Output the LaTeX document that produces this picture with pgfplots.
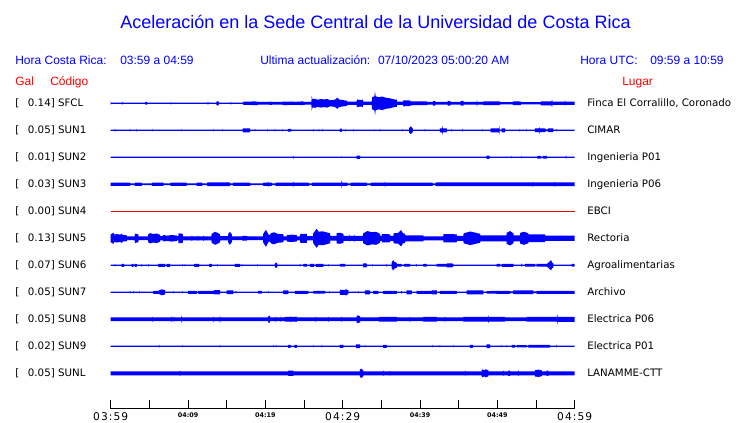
\documentclass[border=0pt]{standalone}
\usepackage{fontspec}
\setmainfont{DejaVu Sans}
\newfontfamily\hdr{Liberation Sans}
\usepackage{pgfplots}
\usepackage{pgfplotstable}
\pgfplotsset{compat=1.18}
\usepgfplotslibrary{fillbetween}

\definecolor{ublue}{RGB}{0,0,255}
\definecolor{ured}{RGB}{255,0,0}
\definecolor{tred}{RGB}{235,0,0}

% half-amplitude envelope of each trace, t in minutes after 03:59, a in px
\pgfplotstableread{
t a
0.00 1.5
0.06 0.65
1.50 0.65
1.55 1.6
1.60 0.65
4.45 0.65
4.50 1.3
4.70 1.3
4.75 0.65
7.75 0.65
7.80 1.3
7.85 0.65
12.52 0.65
12.58 1.6
12.64 0.65
13.65 0.65
13.70 2.0
13.95 2.0
14.00 0.65
15.50 0.65
15.56 1.3
15.62 0.65
17.10 0.65
17.15 1.6
18.00 1.6
18.40 1.9
19.00 1.7
19.10 1.3
20.50 1.3
20.60 1.7
21.00 1.3
22.20 1.3
22.30 1.8
24.00 1.5
24.80 1.9
25.10 1.4
25.95 1.4
26.00 7.3
26.08 4.2
26.50 4.5
26.70 3.5
27.20 4.3
27.60 3.8
28.00 4.3
28.40 3.0
29.00 3.6
29.30 5.6
29.50 4.0
29.70 3.5
30.20 3.0
30.55 2.5
30.60 1.6
31.80 1.6
31.85 3.8
32.30 3.2
32.60 3.6
32.65 1.6
33.75 1.6
33.80 6.0
34.10 7.0
34.18 12.0
34.26 7.0
34.70 6.0
35.10 6.8
35.60 5.5
36.10 5.0
36.60 4.0
37.00 3.5
37.05 1.6
37.80 1.6
37.85 3.0
38.70 2.8
38.75 2.0
40.90 1.8
40.95 1.3
41.65 1.3
41.70 2.4
41.95 2.4
42.00 1.3
43.55 1.3
43.60 2.4
43.90 2.4
43.95 1.3
45.25 1.3
45.30 2.4
45.60 2.4
45.65 1.3
47.32 1.3
47.37 3.0
47.42 1.3
48.15 1.3
48.20 1.8
50.30 1.8
50.35 1.2
52.00 1.2
52.05 1.8
53.00 1.8
53.05 1.2
55.60 1.2
55.65 2.0
57.00 2.0
57.07 3.6
57.14 1.6
58.70 1.6
58.75 3.0
58.80 1.6
60.00 1.6
}\tabSFCL

\pgfplotstableread{
t a
0.00 0.6
0.51 0.6
0.56 1.5
0.61 0.6
2.45 0.6
2.50 1.3
2.55 0.6
3.31 0.6
3.36 1.3
3.41 0.6
5.38 0.6
5.43 1.3
5.48 0.6
9.13 0.6
9.18 1.1
9.23 0.6
13.22 0.6
13.27 1.2
13.32 0.6
14.43 0.6
14.48 1.2
14.53 0.6
17.05 0.6
17.10 2.0
18.00 2.0
18.05 0.6
18.61 0.6
18.66 1.2
18.71 0.6
20.20 0.6
20.25 1.3
20.30 0.6
21.20 0.6
21.25 1.3
21.30 0.6
22.14 0.6
22.19 1.3
22.24 0.6
22.90 0.6
22.93 1.3
23.32 1.3
23.35 0.6
26.15 0.6
26.20 1.3
26.25 0.6
26.89 0.6
26.94 1.3
26.99 0.6
27.37 0.6
27.42 1.3
27.47 0.6
29.62 0.6
29.65 1.6
29.87 1.6
29.90 0.6
30.34 0.6
30.39 1.3
30.44 0.6
31.32 0.6
31.37 1.3
31.42 0.6
34.04 0.6
34.09 1.0
34.14 0.6
34.77 0.6
34.82 1.3
34.87 0.6
37.66 0.6
37.71 1.3
37.76 0.6
38.58 0.6
38.61 2.5
38.80 3.8
39.05 2.0
39.08 0.6
40.59 0.6
40.64 1.3
40.69 0.6
42.55 0.6
42.58 2.0
42.82 2.0
42.88 4.7
42.94 2.0
43.45 2.0
43.48 0.6
44.05 0.6
44.10 1.5
44.15 0.6
45.42 0.6
45.47 1.5
45.52 0.6
48.00 0.6
48.05 1.3
48.10 0.6
49.11 0.6
49.14 2.0
50.12 2.0
50.20 2.0
50.25 4.3
50.30 0.6
50.53 0.6
50.56 2.0
50.99 2.0
51.02 0.6
52.85 0.6
52.90 1.3
52.95 0.6
53.75 0.6
53.80 1.3
53.85 0.6
54.84 0.6
54.87 1.8
55.37 1.8
55.42 3.5
55.47 1.8
56.20 1.8
56.25 0.8
56.50 0.8
56.55 1.8
57.23 1.8
57.26 0.6
57.62 0.6
57.67 1.3
57.72 0.6
60.00 0.6
}\tabSUNa

\pgfplotstableread{
t a
0.00 0.6
23.56 0.6
23.61 1.6
23.66 0.6
29.82 0.6
29.87 1.1
29.92 0.6
31.78 0.6
31.81 1.7
32.24 1.7
32.27 0.6
48.59 0.6
48.62 1.7
48.96 1.7
48.99 0.6
51.80 0.6
51.85 1.2
51.90 0.6
53.10 0.6
53.15 1.2
53.20 0.6
55.15 0.6
55.20 1.4
55.60 1.4
55.65 0.6
55.85 0.6
55.90 1.4
56.38 1.4
56.42 0.6
58.83 0.6
58.88 1.8
58.93 0.6
60.00 0.6
}\tabSUNb

\pgfplotstableread{
t a
0.00 1.7
2.50 1.7
2.55 0.8
3.10 0.8
3.15 1.7
4.00 1.7
4.05 0.8
5.30 0.8
5.35 1.7
6.80 1.7
6.85 0.8
7.70 0.8
7.75 1.7
9.80 1.7
9.85 0.8
11.10 0.8
11.15 1.7
11.80 1.7
11.85 0.8
12.45 0.8
12.50 1.8
15.40 1.8
15.45 0.8
15.80 0.8
15.85 1.7
18.00 1.7
18.05 0.8
19.70 0.8
19.75 1.6
20.33 1.6
20.38 2.6
20.43 1.6
20.80 1.6
20.85 0.8
21.30 0.8
21.35 1.7
23.56 1.7
23.61 2.6
23.66 1.7
25.60 1.7
25.65 0.8
26.00 0.8
26.05 1.7
29.82 1.7
29.87 3.6
29.92 1.7
30.60 1.7
30.65 0.8
31.00 0.8
31.05 1.7
33.10 1.7
33.15 0.8
33.60 0.8
33.65 1.7
35.42 1.7
35.47 2.6
35.52 1.7
41.60 1.7
41.65 0.9
42.00 0.9
42.05 1.8
54.52 1.8
54.57 2.5
54.62 1.8
57.40 1.8
57.45 2.5
57.50 1.8
60.00 1.8
}\tabSUNc

\pgfplotstableread{
t a
0 0.7
60 0.7
}\tabSUNd

\pgfplotstableread{
t a
0.00 4.0
0.20 4.8
0.34 5.6
0.45 3.8
0.90 4.2
1.20 3.5
1.42 4.6
1.60 3.2
2.07 3.0
2.10 1.9
3.10 1.9
3.14 4.6
3.57 4.0
3.60 1.9
4.83 1.9
4.86 4.0
5.10 5.2
5.50 4.2
5.90 4.8
6.38 3.5
6.40 2.1
6.76 2.1
6.80 3.2
7.40 2.6
7.80 3.3
8.53 2.8
8.56 2.1
8.74 2.1
8.78 5.0
9.31 4.5
9.35 2.0
10.45 2.0
10.50 2.8
10.55 2.0
11.25 2.0
11.30 2.6
11.35 2.0
11.95 2.0
12.00 2.6
12.05 2.0
13.02 2.0
13.06 4.5
13.50 6.5
13.80 5.5
14.13 4.0
14.17 2.2
15.18 2.2
15.21 4.5
15.40 6.5
15.65 4.0
15.69 1.9
17.00 1.9
17.05 2.4
17.60 2.4
17.65 1.9
19.70 1.9
19.73 4.5
20.08 8.5
20.38 4.0
20.60 3.0
20.70 5.0
21.10 6.0
21.60 4.5
22.32 4.0
22.36 2.0
22.76 2.0
22.80 3.4
23.50 3.6
24.05 3.2
24.09 2.0
24.48 2.0
24.52 4.5
25.35 4.5
25.39 2.2
26.16 2.2
26.20 5.0
26.64 9.5
26.90 6.5
27.40 7.0
27.90 6.0
28.36 5.0
28.40 2.3
29.20 2.3
29.23 5.2
29.70 5.5
30.08 4.5
30.12 2.5
30.85 2.5
30.90 3.6
30.95 2.5
31.45 2.5
31.50 3.6
31.55 2.5
32.62 2.5
32.66 5.0
33.20 7.2
33.80 6.0
34.30 6.5
34.82 4.5
34.86 2.5
35.04 2.5
35.08 4.2
36.12 4.0
36.16 2.5
36.55 2.5
36.60 5.0
37.20 5.5
37.54 8.2
37.80 5.0
38.06 4.5
38.10 3.0
40.42 3.0
40.46 2.0
43.00 2.0
43.04 4.2
44.74 4.0
44.78 2.5
45.60 2.5
45.64 5.0
46.50 6.8
47.20 5.5
47.76 4.5
47.80 3.0
51.18 3.0
51.21 5.5
51.64 7.2
52.07 5.0
52.11 3.0
52.93 3.0
52.97 5.5
53.45 6.5
54.00 5.0
54.04 3.8
56.16 3.8
56.20 2.6
60.00 2.6
}\tabSUNe

\pgfplotstableread{
t a
0.00 0.6
0.52 0.6
0.57 1.3
0.62 0.6
1.40 0.6
1.42 1.5
1.72 1.5
1.74 0.6
2.70 0.6
2.72 1.5
2.95 1.5
2.97 0.6
3.10 0.6
3.12 1.5
3.36 1.5
3.38 0.6
3.96 0.6
4.01 1.3
4.06 0.6
4.81 0.6
4.86 1.5
4.91 0.6
6.14 0.6
6.16 1.5
7.02 1.5
7.04 0.6
7.22 0.6
7.24 1.5
7.67 1.5
7.69 0.6
9.26 0.6
9.31 1.3
9.36 0.6
9.55 0.6
9.60 1.3
9.65 0.6
10.79 0.6
10.81 1.5
11.42 1.5
11.44 0.6
12.73 0.6
12.75 1.5
13.06 1.5
13.08 0.6
13.73 0.6
13.78 1.3
13.83 0.6
16.05 0.6
16.07 1.5
16.72 1.5
16.74 0.6
16.95 0.6
17.00 1.3
17.05 0.6
18.91 0.6
18.96 1.3
19.01 0.6
21.23 0.6
21.25 2.0
21.40 2.7
21.54 2.0
21.56 0.6
24.43 0.6
24.48 1.3
24.53 0.6
24.89 0.6
24.91 1.3
25.35 1.3
25.37 0.6
25.75 0.6
25.77 1.5
26.30 1.5
26.32 0.6
26.50 0.6
26.52 1.5
27.49 1.5
27.51 0.6
28.09 0.6
28.14 1.3
28.19 0.6
29.63 0.6
29.65 1.3
30.30 1.3
30.32 0.6
32.64 0.6
32.66 2.0
33.10 2.0
33.12 0.6
33.83 0.6
33.88 1.3
33.93 0.6
35.64 0.6
35.69 1.5
35.74 0.6
36.32 0.6
36.34 3.0
36.54 5.2
36.70 3.2
36.98 2.5
37.00 1.4
37.60 1.4
37.62 0.6
37.90 0.6
37.92 1.4
38.70 1.4
38.72 0.6
39.52 0.6
39.57 1.3
39.62 0.6
40.40 0.6
40.42 1.3
40.86 1.3
40.88 0.6
42.14 0.6
42.16 1.3
43.45 1.3
43.47 2.0
44.10 2.0
44.30 1.3
44.32 0.6
49.90 0.6
49.92 1.3
50.34 1.3
50.36 0.6
50.54 0.6
50.56 1.5
52.06 1.5
52.08 0.6
53.10 0.6
53.15 2.0
53.20 0.6
53.56 0.6
53.58 1.3
54.87 1.3
54.89 0.6
55.07 0.6
55.09 1.3
56.38 1.3
56.59 2.5
56.94 5.2
57.10 2.5
57.23 2.5
57.25 0.6
59.59 0.6
59.61 1.3
60.00 1.3
}\tabSUNf

\pgfplotstableread{
t a
0.00 0.6
2.45 0.6
2.50 1.3
2.55 0.6
2.87 0.6
2.92 1.3
2.97 0.6
3.65 0.6
3.70 1.3
3.75 0.6
5.49 0.6
5.51 1.5
6.16 1.5
6.38 2.2
6.60 3.0
7.02 2.2
7.04 0.6
8.04 0.6
8.09 1.3
8.14 0.6
9.26 0.6
9.31 1.3
9.36 0.6
10.01 0.6
10.03 1.5
11.12 1.5
11.14 0.6
11.31 0.6
11.33 1.5
13.27 1.5
13.49 2.2
14.13 2.2
14.15 0.6
14.98 0.6
15.00 1.8
15.85 1.8
15.87 0.6
16.15 0.6
16.20 1.3
16.25 0.6
19.06 0.6
19.08 1.3
19.52 1.3
19.54 0.6
20.33 0.6
20.38 1.3
20.43 0.6
22.30 0.6
22.32 1.8
22.97 1.8
22.99 0.6
23.81 0.6
23.83 1.5
25.55 1.5
25.57 0.6
26.18 0.6
26.20 1.3
27.71 1.3
27.73 0.6
28.25 0.6
28.30 1.3
28.35 0.6
29.63 0.6
29.65 2.5
30.38 2.5
30.43 4.3
30.48 2.5
30.73 2.0
30.75 0.6
31.97 0.6
32.02 1.3
32.07 0.6
32.87 0.6
32.89 2.0
33.53 2.0
33.55 0.6
33.94 0.6
33.96 1.5
34.60 1.5
34.62 0.6
35.23 0.6
35.25 1.5
36.98 1.5
37.00 0.6
37.55 0.6
37.60 1.3
37.65 0.6
38.26 0.6
38.28 2.0
38.92 2.0
38.94 0.6
39.55 0.6
39.57 1.5
41.51 1.5
41.53 2.0
42.16 2.0
42.18 0.6
42.56 0.6
42.58 1.5
44.74 1.5
44.76 0.6
46.02 0.6
46.04 2.0
48.18 2.0
48.20 0.6
48.60 0.6
48.62 1.2
50.12 1.5
51.64 1.5
51.66 0.8
52.04 0.8
52.06 1.8
54.65 1.8
54.67 0.8
55.07 0.8
55.09 1.5
60.00 1.5
}\tabSUNg

\pgfplotstableread{
t a
0.00 1.8
5.38 1.8
5.43 2.6
5.48 1.8
7.84 1.8
7.89 3.0
7.94 1.8
8.15 1.8
8.20 2.5
8.25 1.8
9.13 1.8
9.18 3.5
9.23 1.8
13.22 1.8
13.27 3.0
13.32 1.8
14.08 1.8
14.13 3.5
14.18 1.8
20.36 1.8
20.38 3.3
20.60 3.3
20.62 1.8
21.25 1.8
21.30 2.6
21.35 1.8
21.95 1.8
22.00 2.6
22.05 1.8
22.52 1.8
22.54 2.3
23.25 2.3
23.30 3.0
23.35 2.3
23.90 2.3
23.95 3.0
24.05 2.3
24.07 1.8
26.41 1.8
26.46 2.6
26.51 1.8
28.09 1.8
28.14 2.6
28.19 1.8
29.82 1.8
29.87 2.6
29.92 1.8
31.79 1.8
31.81 3.3
31.98 3.9
32.24 3.0
32.26 1.8
34.68 1.8
34.70 2.3
37.00 2.3
37.02 1.8
38.65 1.8
38.70 2.6
38.75 1.8
40.40 1.8
40.42 2.4
42.16 2.4
42.18 1.8
43.18 1.8
43.23 2.6
43.28 1.8
45.58 1.8
45.60 2.4
48.78 2.4
48.83 3.8
48.88 2.4
51.00 2.3
51.02 1.9
53.78 1.9
53.80 2.3
57.70 2.3
57.75 4.9
57.80 2.5
60.00 2.5
}\tabSUNh

\pgfplotstableread{
t a
0.00 0.6
6.23 0.6
6.28 1.3
6.33 0.6
9.21 0.6
9.26 1.2
9.31 0.6
14.08 0.6
14.13 1.3
14.18 0.6
20.98 0.6
21.03 1.2
21.08 0.6
21.33 0.6
21.38 1.2
21.43 0.6
22.95 0.6
22.97 1.5
23.25 1.5
23.27 0.6
23.75 0.6
23.77 1.5
24.05 1.5
24.07 0.6
26.15 0.6
26.20 1.2
26.25 0.6
27.24 0.6
27.29 1.2
27.34 0.6
29.63 0.6
29.65 1.5
30.08 1.5
30.10 0.6
31.70 0.6
31.72 1.8
32.24 1.8
32.26 0.6
32.84 0.6
32.89 1.2
32.94 0.6
35.23 0.6
35.25 1.5
35.69 1.5
35.71 0.6
41.59 0.6
41.64 1.2
41.69 0.6
42.53 0.6
42.58 1.2
42.63 0.6
44.25 0.6
44.30 1.2
44.35 0.6
46.44 0.6
46.46 1.5
46.81 1.5
46.83 0.6
48.60 0.6
48.62 1.8
49.05 1.8
49.07 0.6
50.45 0.6
50.50 1.2
50.55 0.6
51.16 0.6
51.21 1.2
51.26 0.6
51.87 0.6
51.89 1.3
52.28 1.3
52.30 0.6
52.50 0.6
52.52 1.2
53.80 1.2
53.82 0.6
54.00 0.6
54.02 1.3
56.81 1.3
56.83 0.6
57.62 0.6
57.67 1.5
57.72 0.6
60.00 0.6
}\tabSUNi

\pgfplotstableread{
t a
0.00 2.0
8.91 2.0
8.96 2.7
9.01 2.0
22.95 2.0
22.97 2.7
23.61 2.7
23.63 2.0
32.22 2.0
32.24 3.5
32.37 4.8
32.66 3.0
32.68 2.0
35.20 2.0
35.25 2.7
35.30 2.0
36.07 2.0
36.12 2.5
36.17 2.0
45.81 2.0
45.86 2.5
45.91 2.0
47.96 2.0
47.98 3.0
48.10 4.0
48.30 3.0
48.50 4.0
48.83 3.0
48.85 2.0
50.72 2.0
50.77 2.7
50.82 2.0
51.40 2.0
51.42 2.7
51.64 2.7
51.66 2.0
52.66 2.0
52.71 3.0
52.76 2.0
54.85 2.0
54.87 3.2
55.30 3.6
55.73 3.0
55.75 2.0
56.36 2.0
56.38 2.7
56.59 2.7
56.61 2.0
60.00 2.0
}\tabSUNL

% #1 table, #2 name, #3 baseline, #4 colour
\newcommand\trace[4]{%
  \addplot[draw=none, forget plot, name path=u#2] table[x=t, y expr={#3+\thisrow{a}}] {#1};
  \addplot[draw=none, forget plot, name path=l#2] table[x=t, y expr={#3-\thisrow{a}}] {#1};
  \addplot[fill=#4, draw=none, forget plot] fill between[of=u#2 and l#2];
}

\newcommand\lblfont{\fontsize{7.7}{9}\selectfont}
\newcommand\hdrfont{\hdr\fontsize{9}{11}\selectfont}
\newcommand\bigtick{\fontsize{8}{9}\selectfont\addfontfeature{LetterSpace=10}}
\newcommand\smalltick{\fontsize{4.8}{5}\selectfont\bfseries}

% baseline y, gal, code, place
\newcommand\lbl[4]{%
  \node[anchor=base west, font=\lblfont] at (15,#1-3.7) {[\hspace{6.5pt}#2] #3};
  \node[anchor=base west, font=\lblfont] at (587,#1-3.7) {#4};
}

\begin{document}
\begin{tikzpicture}[x=0.75pt, y=0.75pt, every node/.style={inner sep=0pt}]
\begin{axis}[
  at={(83.025pt,10.5pt)}, anchor=south west,
  scale only axis, width=348pt, height=306.75pt,
  xmin=0, xmax=60, ymin=14, ymax=423,
  axis x line=bottom, axis y line=none,
  axis line style={-, line width=0.75pt, black},
  xtick={0,5,...,60}, ytick=\empty,
  tick align=inside, major tick length=6.4pt,
  tick style={line width=0.75pt, black},
  xticklabels={{\bigtick 03:59},{},{\smalltick 04:09},{},{\smalltick 04:19},{},{\bigtick 04:29},{},{\smalltick 04:39},{},{\smalltick 04:49},{},{\bigtick 04:59}},
  xticklabel style={anchor=north, inner sep=0pt, yshift=-2.3pt},
  clip=false,
]
\trace{\tabSFCL}{SFCL}{319.7}{ublue}
\trace{\tabSUNa}{SUNa}{292.7}{ublue}
\trace{\tabSUNb}{SUNb}{265.7}{ublue}
\trace{\tabSUNc}{SUNc}{238.7}{ublue}
\trace{\tabSUNd}{SUNd}{211.7}{tred}
\trace{\tabSUNe}{SUNe}{184.7}{ublue}
\trace{\tabSUNf}{SUNf}{157.7}{ublue}
\trace{\tabSUNg}{SUNg}{130.7}{ublue}
\trace{\tabSUNh}{SUNh}{103.7}{ublue}
\trace{\tabSUNi}{SUNi}{76.7}{ublue}
\trace{\tabSUNL}{SUNL}{49.7}{ublue}
\end{axis}

\node[anchor=base, text=ublue, font=\hdr\fontsize{13.5}{16}\selectfont] at (375.5,394) {Aceleración en la Sede Central de la Universidad de Costa Rica};

\node[anchor=base west, text=ublue, font=\hdrfont] at (15,358) {Hora Costa Rica:};
\node[anchor=base west, text=ublue, font=\hdrfont] at (120,358) {03:59 a 04:59};
\node[anchor=base west, text=ublue, font=\hdrfont] at (260,358) {Ultima actualización:\hspace{2.5pt} 07/10/2023 05:00:20 AM};
\node[anchor=base west, text=ublue, font=\hdrfont] at (580,358) {Hora UTC:};
\node[anchor=base west, text=ublue, font=\hdrfont] at (650,358) {09:59 a 10:59};

\node[anchor=base west, text=ured, font=\hdrfont] at (15,337.5) {Gal};
\node[anchor=base west, text=ured, font=\hdrfont] at (50,337.5) {Código};
\node[anchor=base west, text=ured, font=\hdrfont] at (622,337.5) {Lugar};

\lbl{319.7}{0.14}{SFCL}{Finca El Corralillo, Coronado}
\lbl{292.7}{0.05}{SUN1}{CIMAR}
\lbl{265.7}{0.01}{SUN2}{Ingenieria P01}
\lbl{238.7}{0.03}{SUN3}{Ingenieria P06}
\lbl{211.7}{0.00}{SUN4}{EBCI}
\lbl{184.7}{0.13}{SUN5}{Rectoria}
\lbl{157.7}{0.07}{SUN6}{Agroalimentarias}
\lbl{130.7}{0.05}{SUN7}{Archivo}
\lbl{103.7}{0.05}{SUN8}{Electrica P06}
\lbl{76.7}{0.02}{SUN9}{Electrica P01}
\lbl{49.7}{0.05}{SUNL}{LANAMME-CTT}

\pgfresetboundingbox
\useasboundingbox (0,0) rectangle (740,423);
\end{tikzpicture}
\end{document}
